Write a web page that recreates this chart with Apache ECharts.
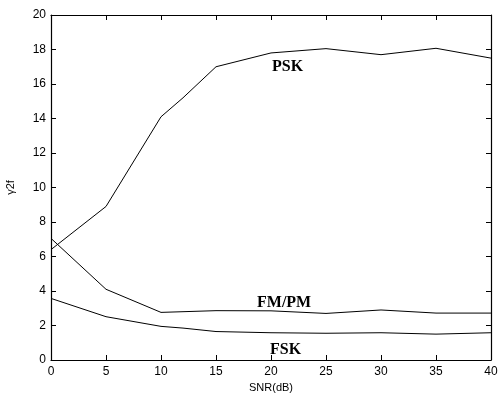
<!DOCTYPE html>
<html><head><meta charset="utf-8">
<script src="https://cdn.jsdelivr.net/npm/echarts@6/dist/echarts.min.js"></script>
<style>html,body{margin:0;padding:0;background:#fff}#c{width:503px;height:395px}</style>
</head><body><div id="c"></div>
<script>
const snr = [0, 5, 10, 12, 15, 20, 25, 30, 35, 40];
const psk = [6.4, 8.9, 14.1, 15.2, 17.0, 17.8, 18.05, 17.7, 18.07, 17.5];
const fmpm = [7.05, 4.1, 2.76, 2.8, 2.86, 2.85, 2.7, 2.9, 2.72, 2.72];
const fsk = [3.57, 2.51, 1.95, 1.85, 1.65, 1.58, 1.55, 1.58, 1.5, 1.58];
const xTicks = [0, 5, 10, 15, 20, 25, 30, 35, 40];
const yTicks = [0, 2, 4, 6, 8, 10, 12, 14, 16, 18, 20];
const seriesNames = ['PSK', 'FM/PM', 'FSK'];

const pair = arr => snr.map((x, i) => [x, arr[i]]);
const lineStyle = {color: '#000', width: 1};
const chart = echarts.init(document.getElementById('c'));
const tickStyle = {show: true, inside: true, length: 5, lineStyle: {color: '#000'}};
const axisLine = {show: true, onZero: false, lineStyle: {color: '#000', width: 1.2}};
const lbl = {color: '#000', fontFamily: 'Liberation Sans', fontSize: 12};
chart.setOption({
  animation: false,
  backgroundColor: '#fff',
  grid: {left: 51, right: 12, top: 15, bottom: 35, containLabel: false, outerBoundsMode: 'none'},
  xAxis: [
    {type: 'value', min: 0, max: 40, interval: 5, axisLine, axisTick: tickStyle,
     axisLabel: Object.assign({margin: 6, formatter: v => xTicks.includes(v) ? v : ''}, lbl),
     splitLine: {show: false}, name: 'SNR(dB)', nameLocation: 'middle', nameGap: 22,
     nameTextStyle: {color: '#000', fontFamily: 'Liberation Sans', fontSize: 11}},
    {type: 'value', position: 'top', min: 0, max: 40, interval: 5, axisLine, axisTick: tickStyle,
     axisLabel: {show: false}, splitLine: {show: false}}
  ],
  yAxis: [
    {type: 'value', min: 0, max: 20, interval: 2, axisLine, axisTick: tickStyle,
     axisLabel: Object.assign({margin: 5, formatter: v => yTicks.includes(v) ? v : ''}, lbl),
     splitLine: {show: false}, name: 'γ2f', nameLocation: 'middle', nameGap: 35, nameRotate: 90,
     nameTextStyle: {color: '#000', fontFamily: 'Liberation Sans', fontSize: 11}},
    {type: 'value', position: 'right', min: 0, max: 20, interval: 2, axisLine, axisTick: tickStyle,
     axisLabel: {show: false}, splitLine: {show: false}}
  ],
  series: [psk, fmpm, fsk].map((arr, i) => ({
    name: seriesNames[i], type: 'line', data: pair(arr), symbol: 'none',
    lineStyle, itemStyle: {color: '#000'}
  })),
  graphic: [
    {type: 'text', left: 272, top: 59, style: {text: 'PSK', font: 'bold 16px "Liberation Serif"', fill: '#000'}},
    {type: 'text', left: 257, top: 295, style: {text: 'FM/PM', font: 'bold 16px "Liberation Serif"', fill: '#000'}},
    {type: 'text', left: 270, top: 342, style: {text: 'FSK', font: 'bold 16px "Liberation Serif"', fill: '#000'}}
  ]
});
</script></body></html>
